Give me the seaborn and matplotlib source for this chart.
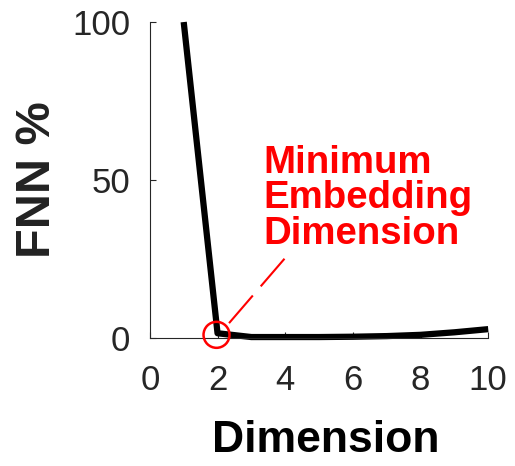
import matplotlib
matplotlib.use("Agg")
import matplotlib.pyplot as plt
import seaborn as sns
import pandas as pd
from matplotlib.patches import Ellipse

dimension = [1, 2, 3, 4, 5, 6, 7, 8, 9, 10]
fnn_pct = [100, 1.5, 0.3, 0.3, 0.3, 0.4, 0.6, 1.0, 1.8, 2.8]
annotation = "Minimum\nEmbedding\nDimension"

sns.set_style("ticks")
plt.rcParams['font.family'] = ['Liberation Sans', 'DejaVu Sans']

fig = plt.figure(figsize=(5.15, 4.66), dpi=100)
ax = fig.add_axes([0.291, 0.2747, 0.657, 0.678])
df = pd.DataFrame({"Dimension": dimension, "FNN": fnn_pct})
sns.lineplot(data=df, x="Dimension", y="FNN", ax=ax, color="black", linewidth=4.5,
             solid_joinstyle="round", solid_capstyle="butt", clip_on=False)

ax.set_xlim(0, 10)
ax.set_ylim(0, 100)
ax.set_xticks([0, 2, 4, 6, 8, 10])
ax.set_yticks([0, 50, 100])
ax.tick_params(direction="in", length=4, width=0.8, labelsize=25, colors="#262626")
ax.tick_params(axis="x", pad=19)
ax.tick_params(axis="y", pad=14)
for s in ["top", "right"]:
    ax.spines[s].set_visible(False)
for s in ["left", "bottom"]:
    ax.spines[s].set_color("#262626")
    ax.spines[s].set_linewidth(0.8)

ax.set_xlabel("Dimension", fontsize=32, fontweight="bold", labelpad=16, color="black")
ax.xaxis.label.set_x(0.52)
ax.set_ylabel("FNN %", fontsize=35, fontweight="bold", labelpad=9, color="#222222")

bbox = ax.get_window_extent()
rx = 13 / bbox.width * 10
ry = 13 / bbox.height * 100
ax.add_patch(Ellipse((1.97, 1.0), 2 * rx, 2 * ry, fill=False, edgecolor="red",
                     linewidth=1.8, clip_on=False, zorder=5))
ax.plot([2.34, 4.02], [4.7, 25.6], color="red", linewidth=1.5, linestyle=(0, (17.5, 5.8)))
ax.text(3.35, 61.0, annotation, color="red", fontsize=27.6, fontweight="bold",
        ha="left", va="top", linespacing=0.97)

fig.savefig("out.png", dpi=100)
